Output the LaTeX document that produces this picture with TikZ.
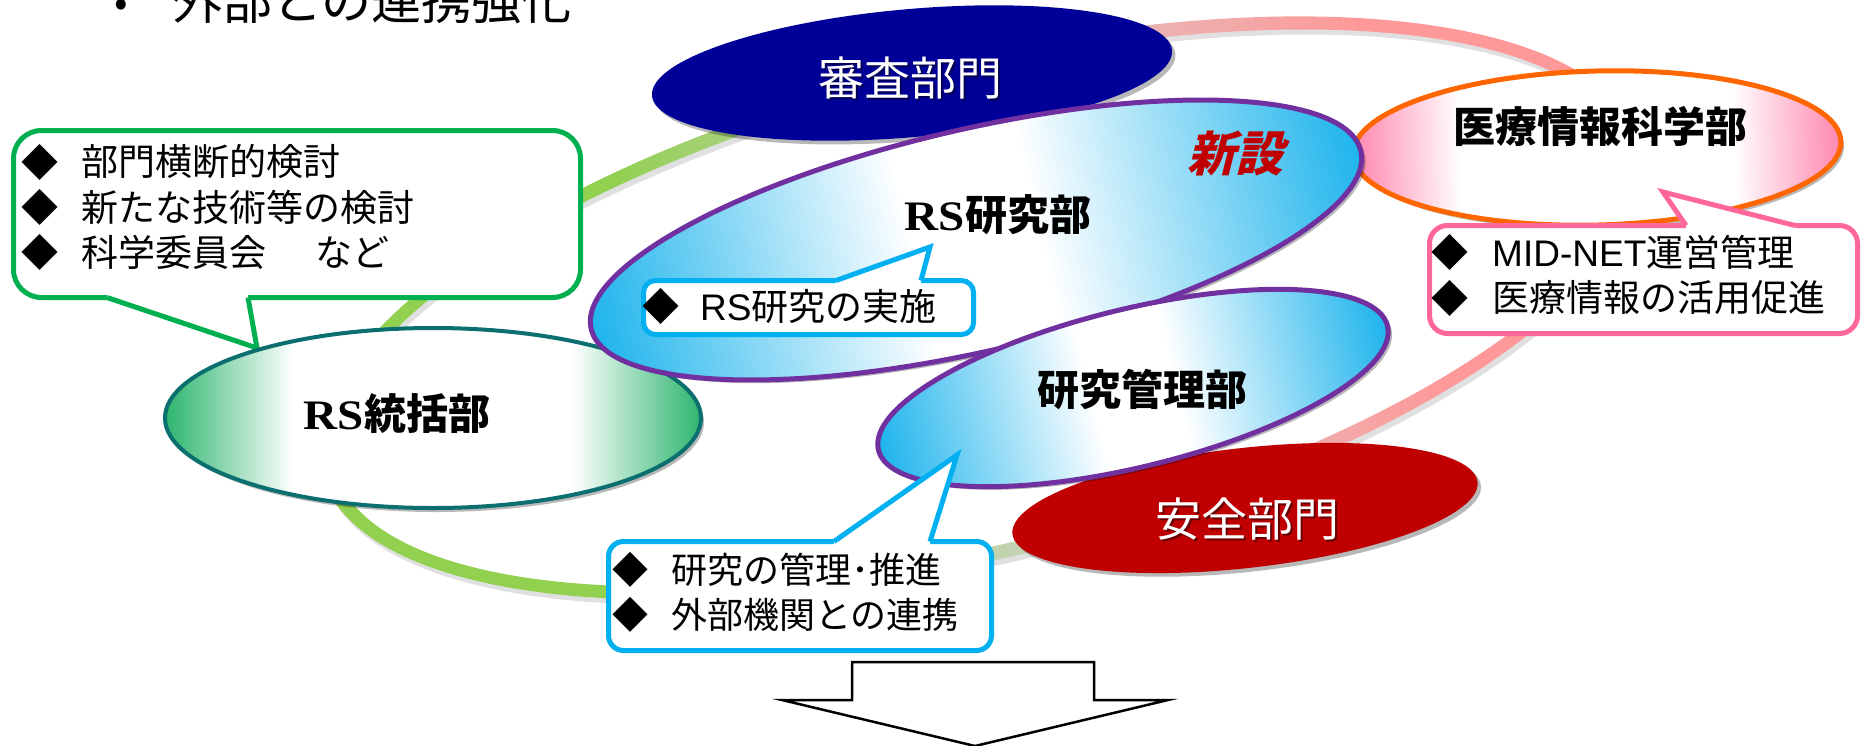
\documentclass[tikz,border=0pt]{standalone}
\usepackage{fontspec}
\setmainfont{Noto Sans CJK JP}
\newfontfamily\lsans{Liberation Sans}
\newfontfamily\rsf{Liberation Serif}[FakeStretch=1.12]
\usetikzlibrary{shadows}
\definecolor{navyc}{HTML}{000099}
\definecolor{redc}{HTML}{C00000}
\definecolor{purp}{HTML}{7030A0}
\definecolor{cyanb}{HTML}{00B0F0}
\definecolor{bluef}{HTML}{1DB4EC}
\definecolor{greenb}{HTML}{00B050}
\definecolor{greenf}{HTML}{2CB56E}
\definecolor{tealb}{HTML}{0B6F70}
\definecolor{orng}{HTML}{FF6600}
\definecolor{pinkf}{HTML}{FF86AE}
\definecolor{pinkb}{HTML}{FF6699}
\definecolor{ringg}{HTML}{92D050}
\definecolor{ringp}{HTML}{FF9999}
\definecolor{ringm}{HTML}{C3D2B2}
\definecolor{ringn}{HTML}{E9B4B4}
\pgfdeclarehorizontalshading{bluefade}{100bp}{color(0bp)=(bluef); color(25bp)=(bluef); color(46bp)=(white); color(54bp)=(white); color(75bp)=(bluef); color(100bp)=(bluef)}
\pgfdeclarehorizontalshading{greenfade}{100bp}{color(0bp)=(greenf); color(25bp)=(greenf); color(37bp)=(white); color(63bp)=(white); color(75bp)=(greenf); color(100bp)=(greenf)}
\pgfdeclarehorizontalshading{pinkfade}{100bp}{color(0bp)=(pinkf); color(25bp)=(pinkf); color(36bp)=(white); color(64bp)=(white); color(75bp)=(pinkf); color(100bp)=(pinkf)}
\pgfdeclarehorizontalshading{ringfade}{100bp}{color(0bp)=(ringg); color(25bp)=(ringg); color(38bp)=(ringg); color(49bp)=(ringm); color(58bp)=(ringn); color(66bp)=(ringp); color(75bp)=(ringp); color(100bp)=(ringp)}
\newcommand\fsz[1]{\fontsize{#1}{#1}\selectfont}
\newcommand\ellshape[6]{\begin{scope}[transform canvas={shift={(#1,#2)},rotate=#5}]\path[#6] (0,0) ellipse [x radius=#3, y radius=#4];\end{scope}}
\begin{document}
\begin{tikzpicture}[x=1pt,y=-1pt,
  txt/.style={inner sep=0pt, anchor=west, text=black},
  dia/.style={inner sep=0pt, text=black},
  cbox/.style={draw=#1, line width=5pt, fill=white},
  cptr/.style={draw=#1, line width=5pt, line join=miter},
  dsh/.style={drop shadow={shadow xshift=3pt, shadow yshift=-4pt, opacity=0.28, fill=black}},
  ttl/.style={inner sep=0pt, font=\fsz{42}\bfseries},
  wtl/.style={inner sep=0pt, font=\fsz{46}, text=white},
  wsh/.style={inner sep=0pt, font=\fsz{46}, text=black, opacity=0.45}]
\useasboundingbox[fill=white] (0,0) rectangle (1866,745);
% ring
\begin{scope}[transform canvas={shift={(983,313)},rotate=13.9}]
\fill[black, opacity=0.12, even odd rule] (0,0) ellipse [x radius=679, y radius=249] (0,0) ellipse [x radius=665, y radius=235];
\end{scope}
\begin{scope}[transform canvas={shift={(980,308)},rotate=13.9}]
\shade[shading=ringfade, even odd rule] (0,0) ellipse [x radius=679, y radius=249] (0,0) ellipse [x radius=665, y radius=235];
\end{scope}
% back ellipses
\ellshape{912}{73}{261}{64}{5}{fill=navyc, dsh}
\node[wsh] (sinsas) at (912,80) {審査部門};
\node[wtl] (sinsa) at (910,78) {審査部門};
\ellshape{1245}{508}{234}{60}{6.4}{fill=redc, dsh}
\node[wsh] (anzens) at (1249,521) {安全部門};
\node[wtl] (anzen) at (1247,519) {安全部門};
\ellshape{1597}{148}{244}{77}{1.5}{shade, shading=pinkfade, draw=orng, line width=5pt, dsh}
\node[ttl] (iryo) at (1600,126) {医療情報科学部};
% green callout
\draw[cbox=greenb, rounded corners=28] (13.5,130.5) rectangle (580.5,297.5);
\fill[white] (107,297.5) -- (257,348) -- (248,297.5) -- (248,292) -- (107,292) -- cycle;
\draw[cptr=greenb] (107,297.5) -- (257,348) -- (248,297.5);
\node[dia, font=\fsz{37}] (g1d) at (39.5,162) {◆};
\node[txt, font=\fsz{37}] (g1) at (81,162) {部門横断的検討};
\node[dia, font=\fsz{37}] (g2d) at (39.5,207) {◆};
\node[txt, font=\fsz{37}] (g2) at (81,207) {新たな技術等の検討};
\node[dia, font=\fsz{37}] (g3d) at (39.5,252) {◆};
\node[txt, font=\fsz{37}] (g3) at (81,252) {科学委員会\hspace{49pt}など};
% RS tokatsu
\ellshape{433}{418}{268}{90}{0}{shade, shading=greenfade, draw=tealb, line width=4pt, dsh}
\node[ttl] (tokatsu) at (397,414) {{\rsf\bfseries RS}統括部};
% RS kenkyu
\ellshape{976}{240}{395}{111}{13}{shade, shading=bluefade, draw=purp, line width=5pt, dsh}
\node[ttl] (rsken) at (998,215) {{\rsf\bfseries RS}研究部};
\node[inner sep=0pt, font=\fsz{48}\bfseries, text=redc, xslant=0.25] (shinsetsu) at (1240,154) {新設};
% kenkyu kanri
\ellshape{1133}{388}{262}{79}{13.7}{shade, shading=bluefade, draw=purp, line width=5pt, dsh}
\node[ttl] (kanri) at (1142,390) {研究管理部};
% RS jisshi callout
\draw[cbox=cyanb, rounded corners=12] (643.5,280.5) rectangle (973.5,334.5);
\fill[white] (836,280.5) -- (930,247) -- (921,280.5) -- (921,286) -- (836,286) -- cycle;
\draw[cptr=cyanb] (836,280.5) -- (930,247) -- (921,280.5);
\node[dia, font=\fsz{37}] (r1d) at (661,306) {◆};
\node[txt, font=\fsz{37}] (r1) at (700,306) {{\lsans RS}研究の実施};
% bottom cyan callout
\draw[cbox=cyanb, rounded corners=15] (608.5,541.5) rectangle (991.5,650.5);
\fill[white] (834,541.5) -- (957,455) -- (930,541.5) -- (930,547) -- (834,547) -- cycle;
\draw[cptr=cyanb] (834,541.5) -- (957,455) -- (930,541.5);
\node[dia, font=\fsz{36}] (b1d) at (630,570) {◆};
\node[txt, font=\fsz{36}] (b1) at (671,570) {研究の管理･推進};
\node[dia, font=\fsz{36}] (b2d) at (630,615) {◆};
\node[txt, font=\fsz{36}] (b2) at (671,615) {外部機関との連携};
% pink callout
\draw[cbox=pinkb, rounded corners=18] (1429.5,225.5) rectangle (1857.5,333.5);
\fill[white] (1686,225.5) -- (1663,192) -- (1795,225.5) -- (1795,231) -- (1686,231) -- cycle;
\draw[cptr=pinkb] (1686,225.5) -- (1663,192) -- (1795,225.5);
\node[dia, font=\fsz{37}] (m1d) at (1450,252.5) {◆};
\node[txt, font=\fsz{37}] (m1) at (1492,252.5) {{\lsans MID-NET}運営管理};
\node[dia, font=\fsz{37}] (m2d) at (1450,298) {◆};
\node[txt, font=\fsz{37}] (m2) at (1492,298) {医療情報の活用促進};
% arrow
\draw[line width=2.5pt, fill=white, line join=miter] (852,662) -- (1094,662) -- (1094,700) -- (1168,700) -- (975,746) -- (782,700) -- (852,700) -- cycle;
% top text
\node[inner sep=0pt, font=\fsz{40}] (bul) at (121,8) {•};
\node[inner sep=0pt, anchor=base west, font=\fsz{50}] (toptxt) at (172,19) {外部との連携強化};
\end{tikzpicture}
\end{document}
